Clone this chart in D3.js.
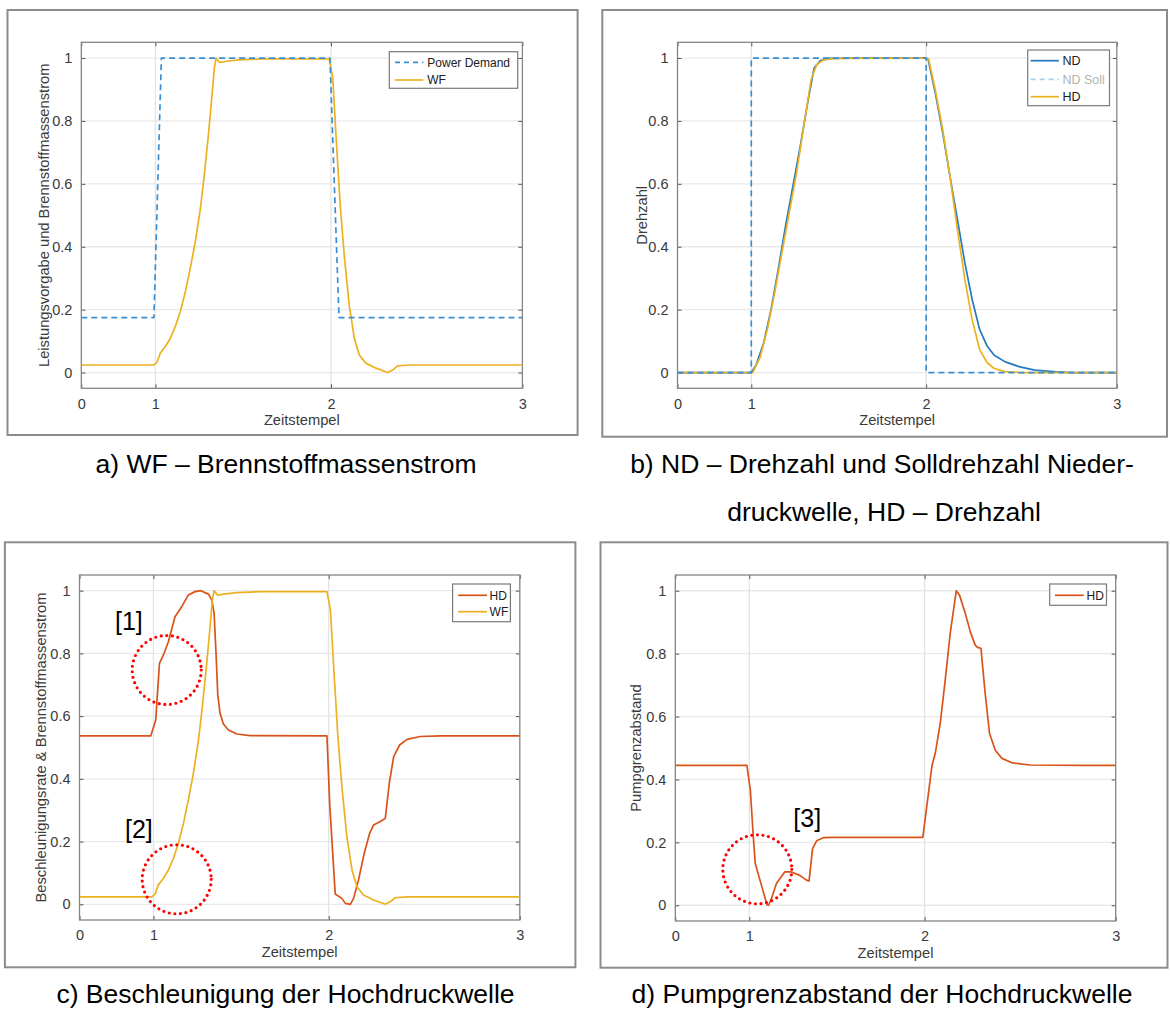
<!DOCTYPE html>
<html>
<head>
<meta charset="utf-8">
<script src="https://cdn.jsdelivr.net/npm/d3@7"></script>
<style>
  html, body { margin: 0; padding: 0; background: #fff; }
  svg { display: block; }
</style>
</head>
<body>
<svg id="fig" width="1170" height="1012"></svg>
<script>
// Tick values shared by all four panels
const xTicks = [0, 1, 2, 3];
const yTicks = [0, 0.2, 0.4, 0.6, 0.8, 1];
const yTickLabels = ["0", "0.2", "0.4", "0.6", "0.8", "1"];

// Power demand (Leistungsvorgabe), [Zeitstempel, normalised value]
const powerDemand = [[0,0.175],[0.98,0.175],[1.034,1],[1.994,1],[2.042,0.175],[3,0.175]];

// Fuel mass flow WF (Brennstoffmassenstrom)
const wf = [[0,0.024],[0.977,0.024],[1.009,0.033],[1.028,0.062],[1.057,0.083],[1.085,0.109],
  [1.114,0.147],[1.142,0.194],[1.171,0.258],[1.199,0.333],[1.228,0.418],[1.257,0.524],
  [1.281,0.641],[1.304,0.768],[1.323,0.885],[1.336,0.970],[1.346,1.0],[1.365,0.986],
  [1.399,0.989],[1.475,0.994],[1.608,0.997],[1.99,0.997],[2.009,0.938],[2.027,0.747],
  [2.048,0.535],[2.069,0.375],[2.095,0.216],[2.122,0.109],[2.148,0.056],[2.182,0.03],
  [2.235,0.014],[2.296,0.0],[2.322,0.008],[2.348,0.021],[2.41,0.024],[3,0.024]];

// Low-pressure shaft speed ND and its set point
const ndSpeed = [[0,0],[1,0],[1.029,0.026],[1.071,0.095],[1.113,0.201],[1.154,0.328],[1.196,0.466],
  [1.238,0.593],[1.28,0.72],[1.322,0.857],[1.359,0.968],[1.395,0.992],[1.447,0.999],[1.572,1],
  [2,1],[2.01,0.997],[2.048,0.889],[2.087,0.762],[2.125,0.624],[2.164,0.487],[2.203,0.349],
  [2.241,0.233],[2.28,0.138],[2.319,0.085],[2.357,0.055],[2.415,0.034],[2.492,0.018],
  [2.57,0.008],[2.685,0.002],[2.763,0],[3,0]];
const ndSetpoint = [[0,0],[1,0],[1,1],[2,1],[2,0],[3,0]];

// High-pressure shaft speed HD
const hdSpeed = [[0,0],[1.008,0],[1.05,0.048],[1.092,0.138],[1.134,0.254],[1.175,0.381],[1.217,0.508],
  [1.259,0.635],[1.3,0.783],[1.342,0.931],[1.374,0.979],[1.415,0.995],[1.489,0.999],[2,1],
  [2.013,0.997],[2.048,0.899],[2.087,0.772],[2.125,0.624],[2.164,0.455],[2.203,0.296],
  [2.241,0.169],[2.28,0.074],[2.319,0.032],[2.357,0.013],[2.415,0.003],[2.492,0],[3,0]];

// Acceleration rate of the high-pressure shaft
const hdAccel = [[0,0.537],[0.963,0.537],[1.013,0.588],[1.034,0.768],[1.057,0.795],[1.085,0.837],
  [1.123,0.917],[1.161,0.949],[1.199,0.986],[1.237,0.997],[1.27,1.0],[1.314,0.989],[1.333,0.97],
  [1.346,0.928],[1.357,0.8],[1.367,0.667],[1.38,0.609],[1.399,0.575],[1.428,0.556],[1.475,0.543],
  [1.551,0.538],[1.99,0.537],[2.005,0.322],[2.034,0.033],[2.069,0.019],[2.087,0.003],[2.113,0],
  [2.13,0.019],[2.156,0.078],[2.186,0.163],[2.214,0.226],[2.235,0.253],[2.27,0.264],[2.296,0.274],
  [2.317,0.386],[2.34,0.471],[2.371,0.508],[2.41,0.526],[2.479,0.535],[2.584,0.537],[3,0.537]];

// Surge margin (Pumpgrenzabstand) of the high-pressure compressor
const hdSurge = [[0,0.445],[0.968,0.445],[1.006,0.366],[1.023,0.217],[1.034,0.133],[1.069,0.064],
  [1.101,0.002],[1.11,0],[1.126,0.021],[1.155,0.069],[1.202,0.106],[1.24,0.106],[1.288,0.095],
  [1.326,0.08],[1.341,0.077],[1.361,0.18],[1.384,0.205],[1.422,0.215],[1.479,0.216],[1.99,0.216],
  [2.039,0.445],[2.056,0.483],[2.082,0.578],[2.108,0.716],[2.134,0.864],[2.166,1.0],[2.183,0.986],
  [2.213,0.928],[2.239,0.87],[2.265,0.827],[2.277,0.82],[2.295,0.817],[2.317,0.674],[2.34,0.546],
  [2.37,0.493],[2.405,0.467],[2.457,0.453],[2.553,0.446],[2.815,0.445],[3,0.445]];

const C_BLUE = "#2479c2", C_YELLOW = "#edb120", C_ORANGE = "#d95319",
      C_DASH = "#3a8fd3", C_SOLL_LEG = "#a6d2f0";
const AXIS_FONT = "'Liberation Sans', Arial, sans-serif";

const panels = [
  { plot: {l: 81.3, t: 42.3, r: 522.4, b: 388.3}, frame: {l: 7.5, t: 10, r: 577.6, b: 435},
    ylabel: "Leistungsvorgabe und Brennstoffmassenstrom", ylabelOff: 32,
    series: [
      {name: "Power Demand", data: powerDemand, color: C_DASH, dash: "6,4", order: 2},
      {name: "WF", data: wf, color: C_YELLOW, order: 1}
    ],
    legend: {l: 389.3, t: 51.7, r: 517.7, b: 88.3, rows: [62.3, 80], x1: 395, x2: 423.3, tx: 427.3, fs: 12}
  },
  { plot: {l: 677.5, t: 42.3, r: 1116.8, b: 388.3}, frame: {l: 602.3, t: 10, r: 1167, b: 436.7},
    ylabel: "Drehzahl", ylabelOff: 31,
    series: [
      {name: "ND", data: ndSpeed, color: C_BLUE, order: 1},
      {name: "ND Soll", data: ndSetpoint, color: C_DASH, dash: "6,4", order: 3,
       legColor: C_SOLL_LEG, legText: "#b3b3b3"},
      {name: "HD", data: hdSpeed, color: C_YELLOW, order: 2}
    ],
    legend: {l: 1027.7, t: 50, r: 1109.5, b: 105.7, rows: [60.7, 79.3, 96.7], x1: 1030.6, x2: 1058.9, tx: 1062.5, fs: 12.5}
  },
  { plot: {l: 79.5, t: 575, r: 519.8, b: 920}, frame: {l: 4.9, t: 542.3, r: 575.4, b: 967.3},
    ylabel: "Beschleunigungsrate & Brennstoffmassenstrom", ylabelOff: 34,
    series: [
      {name: "HD", data: hdAccel, color: C_ORANGE, order: 1},
      {name: "WF", data: wf, color: C_YELLOW, order: 2}
    ],
    legend: {l: 452.6, t: 584, r: 510.4, b: 621.7, rows: [595.3, 611.7], x1: 458.2, x2: 487, tx: 489.6, fs: 12},
    marks: [
      {label: "[1]", lx: 115, ly: 630, cx: 166.7, cy: 670},
      {label: "[2]", lx: 125, ly: 838, cx: 176.7, cy: 879.3}
    ]
  },
  { plot: {l: 675.3, t: 575, r: 1115.7, b: 921}, frame: {l: 600.5, t: 542.3, r: 1167.5, b: 967.7},
    ylabel: "Pumpgrenzabstand", ylabelOff: 34,
    series: [
      {name: "HD", data: hdSurge, color: C_ORANGE, order: 1}
    ],
    legend: {l: 1049.7, t: 584, r: 1106.5, b: 605.3, rows: [595.3], x1: 1055, x2: 1083.8, tx: 1086.6, fs: 12},
    marks: [
      {label: "[3]", lx: 793.3, ly: 827, cx: 757.3, cy: 869.3}
    ]
  }
];

const captions = [
  {text: "a) WF – Brennstoffmassenstrom", x: 286, y: 473},
  {text: "b) ND – Drehzahl und Solldrehzahl Nieder-", x: 882, y: 473},
  {text: "druckwelle, HD – Drehzahl", x: 884, y: 521},
  {text: "c) Beschleunigung der Hochdruckwelle", x: 285.5, y: 1003},
  {text: "d) Pumpgrenzabstand der Hochdruckwelle", x: 882, y: 1003}
];

const svg = d3.select("#fig");

panels.forEach((p, i) => {
  const g = svg.append("g").attr("class", "panel panel-" + i);
  const {l, t, r, b} = p.plot;
  const w = r - l;

  // Zeitstempel axis: the marked instants 1 and 2 are not evenly spaced
  const x = d3.scaleLinear().domain(xTicks).range([l, l + 0.168 * w, l + 0.566 * w, r]);
  const y = d3.scaleLinear().domain([-0.05, 1.05]).range([b, t]);

  // outer frame around each subfigure
  g.append("rect")
    .attr("x", p.frame.l).attr("y", p.frame.t)
    .attr("width", p.frame.r - p.frame.l).attr("height", p.frame.b - p.frame.t)
    .attr("fill", "none").attr("stroke", "#8c8c8c").attr("stroke-width", 2);

  // grid
  const grid = g.append("g").attr("class", "grid");
  grid.selectAll("line.gy").data(yTicks).join("line").attr("class", "gy")
    .attr("x1", l).attr("x2", r).attr("y1", d => y(d)).attr("y2", d => y(d))
    .attr("stroke", "#e9e9e9").attr("stroke-width", 1.3);
  grid.selectAll("line.gx").data(xTicks.slice(1, -1)).join("line").attr("class", "gx")
    .attr("y1", t).attr("y2", b).attr("x1", d => x(d)).attr("x2", d => x(d))
    .attr("stroke", "#e4e4e4").attr("stroke-width", 1.3);

  // axes built with d3 axis generators (inner ticks, mirrored on all four sides)
  const tickLen = 4;
  const axB = g.append("g").attr("transform", `translate(0,${b})`)
    .call(d3.axisBottom(x).tickValues(xTicks).tickFormat(d3.format("d")).tickSizeInner(-tickLen).tickSizeOuter(0).tickPadding(10));
  const axT = g.append("g").attr("transform", `translate(0,${t})`)
    .call(d3.axisTop(x).tickValues(xTicks).tickFormat("").tickSizeInner(-tickLen).tickSizeOuter(0));
  const axL = g.append("g").attr("transform", `translate(${l},0)`)
    .call(d3.axisLeft(y).tickValues(yTicks).tickFormat((d, k) => yTickLabels[k]).tickSizeInner(-tickLen).tickSizeOuter(0).tickPadding(9));
  const axR = g.append("g").attr("transform", `translate(${r},0)`)
    .call(d3.axisRight(y).tickValues(yTicks).tickFormat("").tickSizeInner(-tickLen).tickSizeOuter(0));
  [axB, axT, axL, axR].forEach(a => {
    a.select(".domain").remove();
    a.selectAll(".tick line").attr("stroke", "#555").attr("stroke-width", 1);
    a.selectAll(".tick text").attr("fill", "#3a3a3a")
      .style("font-family", AXIS_FONT).style("font-size", "14.5px");
  });
  axB.selectAll(".tick text").attr("dy", "0.71em");

  // axes box
  g.append("rect").attr("x", l).attr("y", t).attr("width", w).attr("height", b - t)
    .attr("fill", "none").attr("stroke", "#858585").attr("stroke-width", 1.3);

  // axis titles
  g.append("text").attr("x", (l + r) / 2).attr("y", b + 37)
    .attr("text-anchor", "middle").attr("fill", "#3a3a3a")
    .style("font-family", AXIS_FONT).style("font-size", "14.7px")
    .text("Zeitstempel");
  g.append("text")
    .attr("transform", `translate(${l - p.ylabelOff},${(t + b) / 2}) rotate(-90)`)
    .attr("text-anchor", "middle").attr("fill", "#3a3a3a")
    .style("font-family", AXIS_FONT).style("font-size", "14.7px")
    .text(p.ylabel);

  // data lines
  const line = d3.line().x(d => x(d[0])).y(d => y(d[1]));
  const clipId = "clip" + i;
  g.append("clipPath").attr("id", clipId).append("rect")
    .attr("x", l).attr("y", t).attr("width", w).attr("height", b - t);
  const lines = g.append("g").attr("clip-path", `url(#${clipId})`);
  p.series.slice().sort((a1, a2) => a1.order - a2.order).forEach(s => {
    lines.append("path").datum(s.data)
      .attr("d", line).attr("fill", "none")
      .attr("stroke", s.color).attr("stroke-width", 1.7)
      .attr("stroke-linejoin", "round")
      .attr("stroke-dasharray", s.dash || null);
  });

  // legend
  const L = p.legend;
  const lg = g.append("g").attr("class", "legend");
  lg.append("rect").attr("x", L.l).attr("y", L.t).attr("width", L.r - L.l).attr("height", L.b - L.t)
    .attr("fill", "#fff").attr("stroke", "#7a7a7a").attr("stroke-width", 1.2);
  p.series.forEach((s, k) => {
    const yy = L.rows[k];
    lg.append("line").attr("x1", L.x1).attr("x2", L.x2).attr("y1", yy).attr("y2", yy)
      .attr("stroke", s.legColor || s.color).attr("stroke-width", 1.7)
      .attr("stroke-dasharray", s.dash ? "5,4" : null);
    lg.append("text").attr("x", L.tx).attr("y", yy).attr("dy", "0.36em")
      .attr("fill", s.legText || "#202020")
      .style("font-family", AXIS_FONT).style("font-size", L.fs + "px")
      .text(s.name);
  });

  // highlighted regions
  (p.marks || []).forEach(m => {
    g.append("circle").attr("cx", m.cx).attr("cy", m.cy).attr("r", 34.5)
      .attr("fill", "none").attr("stroke", "#ff0000").attr("stroke-width", 3.2)
      .attr("stroke-linecap", "round").attr("stroke-dasharray", "0,5.6");
    g.append("text").attr("x", m.lx).attr("y", m.ly).attr("fill", "#000")
      .style("font-family", "'Liberation Sans', Arial, sans-serif").style("font-size", "25px")
      .text(m.label);
  });
});

// subfigure captions
svg.append("g").selectAll("text").data(captions).join("text")
  .attr("x", d => d.x).attr("y", d => d.y).attr("text-anchor", "middle")
  .attr("fill", "#000")
  .style("font-family", "'Liberation Sans', Arial, sans-serif").style("font-size", "26.5px")
  .text(d => d.text);
</script>
</body>
</html>
